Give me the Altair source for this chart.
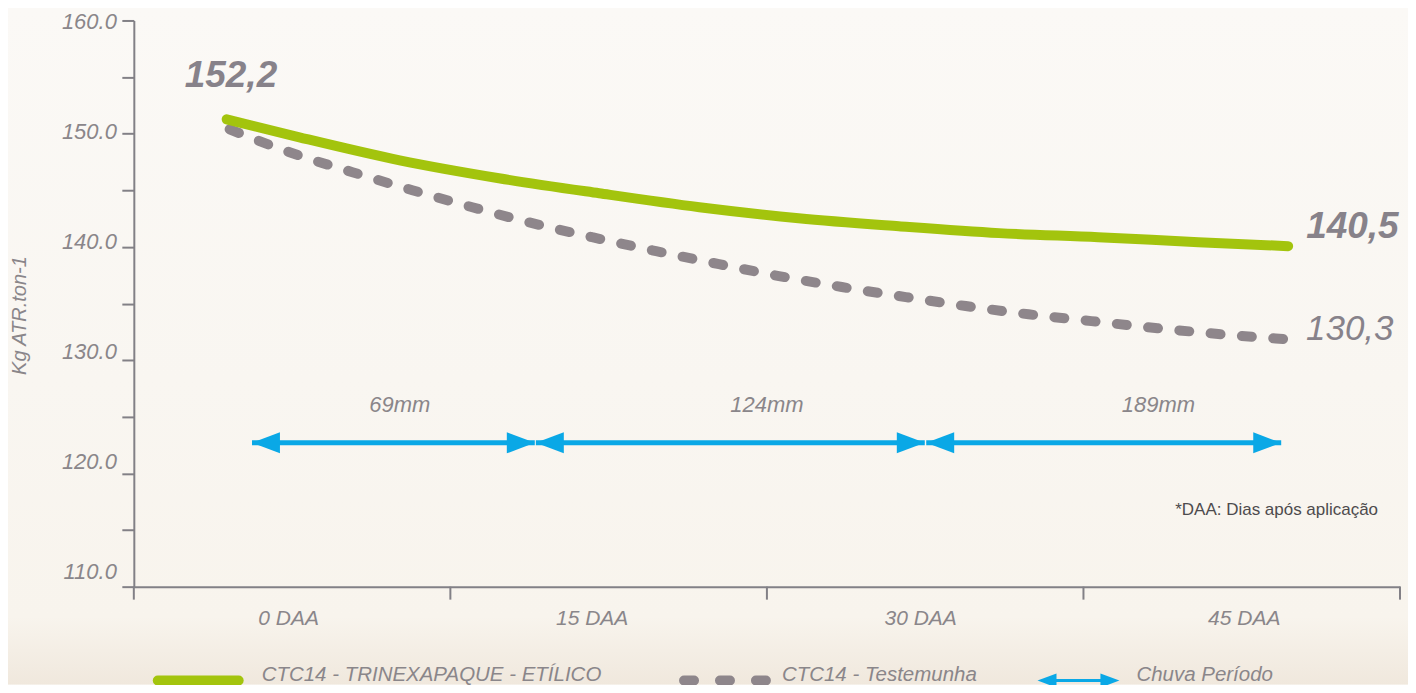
import altair as alt
import pandas as pd

# ---------------- data ----------------
green_days = [-3.1, 0.35, 5.1, 9.8, 14.55, 19.3, 24.0, 28.75, 33.5, 38.2, 42.95, 47.2]
green_vals = [151.27, 149.68, 147.65, 146.07, 144.74, 143.51, 142.54, 141.83, 141.22, 140.86, 140.42, 140.07]

gray_days = [-2.96, -0.12, 2.86, 5.7, 8.54, 11.38, 14.22, 17.25, 20.23, 23.07, 26.05, 29.08, 31.92, 34.9, 37.88, 40.91, 43.89, 46.96]
gray_vals = [150.39, 148.36, 146.6, 145.01, 143.51, 142.1, 140.86, 139.63, 138.48, 137.43, 136.46, 135.57, 134.78, 134.05, 133.45, 132.84, 132.31, 131.87]

value_labels = ["152,2", "140,5", "130,3"]

daa_days = [0, 15, 30, 45]
daa_labels = ["0 DAA", "15 DAA", "30 DAA", "45 DAA"]
x_boundaries = [-7.5, 7.5, 22.5, 37.5, 52.5]
y_ticks = [110, 115, 120, 125, 130, 135, 140, 145, 150, 155, 160]
y_labels = [110, 120, 130, 140, 150, 160]

rain_start = [-1.9, 11.55, 30.05]
rain_end = [11.5, 29.98, 46.87]
rain_labels = ["69mm", "124mm", "189mm"]
rain_label_days = [5.1, 22.5, 41.05]
rain_level = 122.7
rain_label_level = 126.05

series_names = ["CTC14 - TRINEXAPAQUE - ETÍLICO", "CTC14 - Testemunha", "Chuva Período"]
note = "*DAA: Dias após aplicação"
y_title = "Kg ATR.ton-1"

# ---------------- styling ----------------
FONT = "Liberation Sans, Arial, sans-serif"
GREEN = "#a3c40d"
GRAYLINE = "#8e868b"
BLUE = "#0aa8e6"
AXIS = "#828086"
TXT = "#8a868a"
W, H = 1268, 567
PX_PER_UNIT = H / 50.0

xs = alt.Scale(domain=[-7.5, 52.5], nice=False, zero=False)
ys = alt.Scale(domain=[110, 160], nice=False, zero=False)

x_axis = alt.Axis(values=daa_days, labelExpr="datum.value + ' DAA'", ticks=False,
                  domainColor=AXIS, domainWidth=2, grid=False, title=None, zindex=1,
                  labelFont=FONT, labelFontSize=21, labelFontStyle="italic",
                  labelColor=TXT, labelPadding=21, labelOverlap=False, labelFlush=False,
                  labelOffset={"condition": [{"test": "datum.value === 0", "value": -4},
                                             {"test": "datum.value === 15", "value": -17},
                                             {"test": "datum.value === 30", "value": -5}],
                               "value": 2})
y_axis = alt.Axis(values=y_ticks, labels=False, zindex=1,
                  tickSize=12, tickWidth=2, tickColor=AXIS, domainColor=AXIS, domainWidth=2,
                  grid=False,
                  title=y_title, titleFont=FONT, titleFontSize=20, titleFontStyle="italic",
                  titleFontWeight="normal", titleColor=TXT, titleX=-114, titleY=295,
                  titleAlign="center", titleBaseline="middle", titleAngle=270)

def X(field="d"):
    return alt.X(f"{field}:Q", scale=xs, axis=x_axis)

def Y(field="v"):
    return alt.Y(f"{field}:Q", scale=ys, axis=y_axis)

green_df = pd.DataFrame({"d": green_days, "v": green_vals})
gray_df = pd.DataFrame({"d": gray_days, "v": gray_vals})
one = pd.DataFrame({"a": [0]})

# background gradient
bg = alt.Chart(one).mark_rect(
    color=alt.Gradient(gradient="linear",
                       stops=[alt.GradientStop(color="#fbf9f6", offset=0),
                              alt.GradientStop(color="#f9f6f1", offset=0.55),
                              alt.GradientStop(color="#f8f4ed", offset=0.9),
                              alt.GradientStop(color="#f0e8dd", offset=1)],
                       x1=0, x2=0, y1=0, y2=1)
).encode(x=alt.value(-126), x2=alt.value(W + 8), y=alt.value(-12), y2=alt.value(H + 98))

xticks = alt.Chart(pd.DataFrame({"d": x_boundaries})).mark_rule(
    color=AXIS, strokeWidth=2).encode(x=X(), y=alt.value(H), y2=alt.value(H + 13))

# y tick labels (the original's labels sit on a slightly tighter spacing than the ticks)
ylab = alt.Chart(pd.DataFrame({"v": y_labels})).transform_calculate(
    lp=f"160 - (2 + (160 - datum.v) * 11.0) / {PX_PER_UNIT}",
    t="format(datum.v, '.1f')"
).mark_text(font=FONT, fontSize=22, fontStyle="italic", color=TXT, align="right",
            baseline="middle").encode(x=alt.value(-17), y=Y("lp"), text="t:N")

gray_line = alt.Chart(gray_df).mark_line(
    color=GRAYLINE, strokeWidth=10, strokeDash=[10, 21.45], strokeCap="round",
    interpolate="monotone").encode(x=X(), y=Y())
green_line = alt.Chart(green_df).mark_line(
    color=GREEN, strokeWidth=10, strokeCap="round",
    interpolate="monotone").encode(x=X(), y=Y())

# value labels at line ends
def vlabel(d, v, text, dx, dy, weight, size):
    return alt.Chart(pd.DataFrame({"d": [d], "v": [v], "t": [text]})).mark_text(
        font=FONT, fontSize=size, fontStyle="italic", fontWeight=weight, color="#87828a",
        align="left", baseline="alphabetic", dx=dx, dy=dy).encode(x=X(), y=Y(), text="t:N")

lab1 = vlabel(green_days[0], green_vals[0], value_labels[0], -42, -32, "bold", 37)
lab2 = vlabel(green_days[-1], green_vals[-1], value_labels[1], 18, -8, "bold", 37)
lab3 = vlabel(gray_days[-1], gray_vals[-1], value_labels[2], 23, 1, "normal", 35)

# rain arrows
rain_df = pd.DataFrame({"s": rain_start, "e": rain_end, "v": [rain_level] * 3})
rain_rule = alt.Chart(rain_df).mark_rule(color=BLUE, strokeWidth=5).encode(
    x=X("s"), x2="e:Q", y=Y())
LEFT_HEAD = "M0,0L2,-0.75L2,0.75Z"
RIGHT_HEAD = "M0,0L-2,-0.75L-2,0.75Z"
rain_left = alt.Chart(rain_df).mark_point(shape=LEFT_HEAD, size=784, filled=True,
                                          color=BLUE, opacity=1, strokeWidth=0).encode(x=X("s"), y=Y())
rain_right = alt.Chart(rain_df).mark_point(shape=RIGHT_HEAD, size=784, filled=True,
                                           color=BLUE, opacity=1, strokeWidth=0).encode(x=X("e"), y=Y())
rain_text = alt.Chart(pd.DataFrame({"d": rain_label_days, "v": [rain_label_level] * 3,
                                    "t": rain_labels})).mark_text(
    font=FONT, fontSize=22, fontStyle="italic", color=TXT, align="center",
    baseline="middle").encode(x=X(), y=Y(), text="t:N")

note_text = alt.Chart(one).mark_text(
    text=note, font=FONT, fontSize=17, color="#4d4b4d", align="right", baseline="middle"
).encode(x=alt.value(1246), y=alt.value(490))

# legend (bottom)
LY = 658
leg_green = alt.Chart(one).mark_rule(color=GREEN, strokeWidth=10, strokeCap="round").encode(
    x=alt.value(24), x2=alt.value(105), y=alt.value(LY + 3))
leg_gray = alt.Chart(one).mark_rule(color=GRAYLINE, strokeWidth=10, strokeCap="round",
                                    strokeDash=[10, 26]).encode(
    x=alt.value(551), x2=alt.value(634), y=alt.value(LY + 3))
leg_blue = alt.Chart(one).mark_rule(color=BLUE, strokeWidth=3).encode(
    x=alt.value(912), x2=alt.value(980), y=alt.value(LY + 3))
leg_bl = alt.Chart(one).mark_point(shape=LEFT_HEAD, size=361, filled=True, color=BLUE,
                                   opacity=1, strokeWidth=0).encode(x=alt.value(905), y=alt.value(LY + 3))
leg_br = alt.Chart(one).mark_point(shape=RIGHT_HEAD, size=361, filled=True, color=BLUE,
                                   opacity=1, strokeWidth=0).encode(x=alt.value(987), y=alt.value(LY + 3))

def leg_text(x, t):
    return alt.Chart(one).mark_text(text=t, font=FONT, fontSize=20.5, fontStyle="italic",
                                    color=TXT, align="left", baseline="middle").encode(
        x=alt.value(x), y=alt.value(LY - 3))

lt1 = leg_text(128, series_names[0])
lt2 = leg_text(649, series_names[1])
lt3 = leg_text(1004, series_names[2])

chart = alt.layer(
    bg, xticks, ylab, gray_line, green_line, rain_rule, rain_left, rain_right, rain_text,
    lab1, lab2, lab3, note_text,
    leg_green, leg_gray, leg_blue, leg_bl, leg_br, lt1, lt2, lt3
).properties(
    width=W, height=H,
    autosize=alt.AutoSizeParams(type="none"),
    padding={"left": 126, "top": 12, "right": 8, "bottom": 98},
).configure(background="#fbf9f6").configure_view(stroke="transparent")

chart.save("out.html", embed_options={"renderer": "svg", "actions": False})
